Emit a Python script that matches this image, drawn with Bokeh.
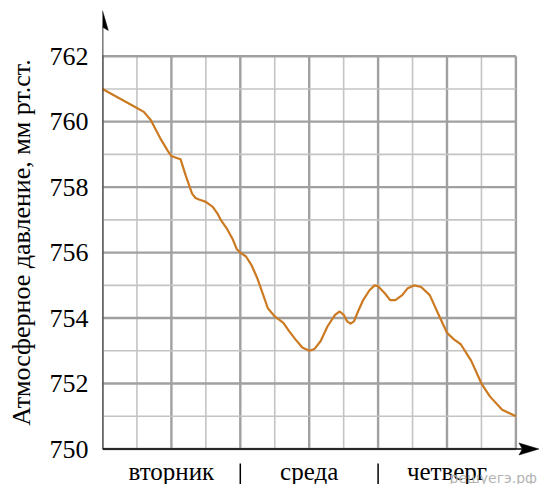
from bokeh.plotting import figure
from bokeh.models import Range1d, FixedTicker, Label
from bokeh.core.properties import value
from bokeh.embed import file_html
from bokeh.resources import INLINE

# ---- data ----
hours = [0, 3, 6, 7.2, 8.4, 10.2, 11.4, 12, 12.8, 13.6, 14.5, 15.6, 16.2, 16.8, 18, 19.2,
         20.0, 20.6, 21.6, 22.7, 23.4, 24, 25, 26, 27, 28, 28.8, 30, 31.5, 32.5, 33.6,
         34.8, 36, 36.9, 38, 39.2, 40.5, 41.3, 42, 42.6, 43.2, 43.8, 44.5, 45.4, 46.5,
         47.4, 48, 49.2, 50.1, 51, 52.2, 53.1, 54.3, 55.5, 57, 58.8, 60, 61.2, 62.4,
         64.2, 66, 67.5, 69.6, 72]
pressure = [761.0, 760.71, 760.42, 760.3, 760.05, 759.45, 759.1, 758.95, 758.9, 758.85,
            758.35, 757.8, 757.67, 757.62, 757.55, 757.4, 757.2, 757.0, 756.75, 756.4,
            756.1, 756.0, 755.88, 755.6, 755.2, 754.7, 754.3, 754.05, 753.85, 753.6,
            753.35, 753.1, 753.0, 753.05, 753.3, 753.75, 754.1, 754.2, 754.1, 753.9,
            753.83, 753.9, 754.2, 754.55, 754.85, 755.0, 754.97, 754.75, 754.55, 754.55,
            754.7, 754.9, 755.0, 754.95, 754.7, 754.0, 753.55, 753.35, 753.2, 752.7,
            752.0, 751.6, 751.2, 751.0]

day_centers = [12, 36, 60]
day_labels = ["вторник", "среда", "четверг"]
day_bounds = [24, 48]
y_ticks = [750, 752, 754, 756, 758, 760, 762]
grid_hours = list(range(0, 73, 6))
grid_levels = list(range(750, 763))

# ---- geometry (canvas pixels) ----
W, H = 539, 484
LEFT = 102
PX_X = 413.4 / 72       # px per hour
PX_Y = 392.8 / 12       # px per mm
Y750 = 448.5            # canvas y of 750
X_END = (W - LEFT) / PX_X
Y_END = 750 + Y750 / PX_Y
Y_START = 750 - (H - Y750) / PX_Y

SERIF = "'Liberation Serif', 'Times New Roman', serif"

p = figure(width=W, height=H, x_range=Range1d(0, X_END), y_range=Range1d(Y_START, Y_END),
           output_backend="svg", toolbar_location=None,
           min_border_left=LEFT, min_border_right=0, min_border_top=0,
           min_border_bottom=0)
p.outline_line_color = None
p.xgrid.visible = False
p.ygrid.visible = False
p.xaxis.visible = False
p.background_fill_color = "white"
p.border_fill_color = "white"

# grid
minor_c, major_c = "#c4c4c4", "#a0a0a0"
for hh in grid_hours:
    major = hh % 12 == 0
    p.segment(x0=[hh], y0=[750], x1=[hh], y1=[762],
              line_color=major_c if major else minor_c,
              line_width=2.4 if major else 1.6)
for lv in grid_levels:
    major = lv % 2 == 0
    p.segment(x0=[0], y0=[lv], x1=[72], y1=[lv],
              line_color=major_c if major else minor_c,
              line_width=2.4 if major else 1.6)

# curve
p.line(hours, pressure, line_color="#cc7a22", line_width=2.2, line_join="round")

# axes lines with arrows
tip_y = 762 + (55.7 - 10) / PX_Y
head_len_y = 20 / PX_Y
half_w = 5.8 / PX_X
notch_y = 3.5 / PX_Y
p.segment(x0=[0], y0=[750], x1=[0], y1=[tip_y - head_len_y + notch_y],
          line_color="black", line_width=1.6)
p.patch([0, -half_w, 0, half_w],
        [tip_y, tip_y - head_len_y, tip_y - head_len_y + notch_y, tip_y - head_len_y],
        fill_color="black", line_color="black", line_width=0.5)

tip_x = X_END - 0.1
head_len_x = 20 / PX_X
half_h = 6.0 / PX_Y
notch_x = 3.5 / PX_X
p.segment(x0=[0], y0=[750], x1=[tip_x - head_len_x + notch_x], y1=[750],
          line_color="black", line_width=1.6)
p.patch([tip_x, tip_x - head_len_x, tip_x - head_len_x + notch_x, tip_x - head_len_x],
        [750, 750 + half_h, 750, 750 - half_h],
        fill_color="black", line_color="black", line_width=0.5)

# day labels and separators below the time axis
mid_y = 750 - (470.5 - Y750) / PX_Y
p.text(x=day_centers, y=[mid_y] * len(day_centers), text=day_labels,
       text_font=value(SERIF), text_font_style="normal", text_font_size="25px",
       text_color="black", text_align="center", text_baseline="middle")
p.segment(x0=day_bounds, y0=[750 - 14.5 / PX_Y] * len(day_bounds),
          x1=day_bounds, y1=[750 - 40 / PX_Y] * len(day_bounds),
          line_color="black", line_width=1.5)

# y axis
ya = p.yaxis[0]
ya.ticker = FixedTicker(ticks=y_ticks)
ya.bounds = (750, 762)
ya.axis_line_color = None
ya.major_tick_line_color = None
ya.minor_tick_line_color = None
ya.major_tick_out = 0
ya.major_tick_in = 0
ya.major_label_standoff = 14
ya.major_label_text_font = SERIF
ya.major_label_text_font_style = "normal"
ya.major_label_text_font_size = "26px"
ya.major_label_text_color = "black"
ya.axis_label = "Атмосферное давление, мм рт.ст."
ya.axis_label_text_font = SERIF
ya.axis_label_text_font_size = "26px"
ya.axis_label_text_font_style = "normal"
ya.axis_label_text_color = "black"
ya.axis_label_standoff = 11

# watermark
p.add_layout(Label(x=(449 - LEFT) / PX_X, y=750 - (477 - Y750) / PX_Y,
                   text="решуегэ.рф", text_font="DejaVu Sans", text_font_size="14px",
                   text_color="#b4b4b4", text_baseline="middle"))

open("out.html", "w").write(file_html(p, INLINE))
